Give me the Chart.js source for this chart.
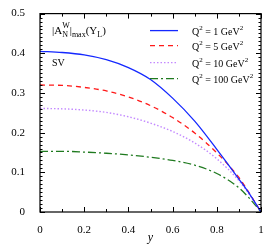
<!DOCTYPE html>
<html>
<head>
<meta charset="utf-8">
<script src="https://cdn.jsdelivr.net/npm/chart.js@4"></script>
<style>
  html, body { margin: 0; padding: 0; background: #fff; }
  #wrap { width: 280px; height: 245px; }
</style>
</head>
<body>
<div id="wrap"><canvas id="asym"></canvas></div>
<script>
const yGrid = [0, 0.1, 0.2, 0.3, 0.4, 0.5, 0.6, 0.7, 0.8, 0.9, 0.95, 1];
const q1 = [0.405, 0.402, 0.396, 0.384, 0.364, 0.334, 0.287, 0.229, 0.158, 0.083, 0.044, 0];
const q5 = [0.320, 0.319, 0.314, 0.305, 0.290, 0.268, 0.238, 0.199, 0.149, 0.087, 0.045, 0];
const q10 = [0.261, 0.260, 0.257, 0.251, 0.240, 0.224, 0.203, 0.174, 0.134, 0.079, 0.042, 0];
const q100 = [0.153, 0.153, 0.151, 0.148, 0.144, 0.138, 0.130, 0.118, 0.097, 0.061, 0.033, 0];
const seriesNames = ['1', '5', '10', '100'];

const serif = '"Liberation Serif", "DejaVu Serif", serif';

function pts(vals) {
  return vals.map((v, i) => ({ x: yGrid[i], y: v }));
}

function mkSet(vals, color, dash, width) {
  return {
    data: pts(vals),
    borderColor: color,
    borderWidth: width,
    borderDash: dash,
    pointRadius: 0,
    fill: false,
    cubicInterpolationMode: 'monotone'
  };
}

// inward ticks on all four sides
const frameTicks = {
  id: 'frameTicks',
  afterDraw(chart) {
    const { ctx, chartArea: a, scales: { x, y } } = chart;
    ctx.save();
    ctx.strokeStyle = '#000';
    ctx.lineWidth = 1;
    ctx.beginPath();
    for (let i = 0; i <= 10; i++) {
      const px = Math.round(x.getPixelForValue(i / 10)) + 0.5;
      const len = i % 2 === 0 ? 5 : 3;
      ctx.moveTo(px, a.bottom); ctx.lineTo(px, a.bottom - len);
      ctx.moveTo(px, a.top); ctx.lineTo(px, a.top + len);
    }
    for (let i = 0; i <= 50; i++) {
      const py = Math.round(y.getPixelForValue(i / 100)) + 0.5;
      const len = i % 10 === 0 ? 5 : 2.5;
      ctx.moveTo(a.left, py); ctx.lineTo(a.left + len, py);
      ctx.moveTo(a.right, py); ctx.lineTo(a.right - len, py);
    }
    ctx.stroke();
    ctx.lineWidth = 1.2;
    ctx.strokeRect(a.left, a.top, a.right - a.left, a.bottom - a.top);
    ctx.restore();
  }
};

// legend and annotation text
const labelsPlugin = {
  id: 'labelsPlugin',
  afterDraw(chart) {
    const { ctx, chartArea: a } = chart;
    ctx.save();
    ctx.fillStyle = '#000';
    ctx.textBaseline = 'alphabetic';
    const rows = [28, 43, 60, 76];
    chart.data.datasets.forEach((ds, i) => {
      const ry = a.top + rows[i] - 11;
      ctx.save();
      ctx.strokeStyle = ds.borderColor;
      ctx.lineWidth = ds.borderWidth;
      ctx.setLineDash(ds.borderDash || []);
      ctx.beginPath();
      ctx.moveTo(150, ry); ctx.lineTo(178, ry);
      ctx.stroke();
      ctx.restore();
      let tx = 192;
      ctx.font = '10px ' + serif;
      ctx.textAlign = 'left';
      ctx.fillText('Q', tx, ry + 4); tx += ctx.measureText('Q').width;
      ctx.font = '7px ' + serif;
      ctx.fillText('2', tx, ry - 1); tx += ctx.measureText('2').width;
      ctx.font = '10px ' + serif;
      const s = ' = ' + seriesNames[i] + ' GeV';
      ctx.fillText(s, tx, ry + 4); tx += ctx.measureText(s).width;
      ctx.font = '7px ' + serif;
      ctx.fillText('2', tx, ry - 1);
    });

    // |A_N^W|_max(Y_L)
    let tx = 52;
    const by = 34;
    ctx.font = '11px ' + serif;
    ctx.fillText('|A', tx, by); tx += ctx.measureText('|A').width;
    ctx.font = '8px ' + serif;
    ctx.fillText('W', tx, by - 6);
    ctx.fillText('N', tx, by + 3);
    tx += ctx.measureText('W').width;
    ctx.font = '11px ' + serif;
    ctx.fillText('|', tx, by); tx += ctx.measureText('|').width;
    ctx.font = '8px ' + serif;
    ctx.fillText('max', tx, by + 3); tx += ctx.measureText('max').width;
    ctx.font = '11px ' + serif;
    ctx.fillText('(Y', tx, by); tx += ctx.measureText('(Y').width;
    ctx.font = '8px ' + serif;
    ctx.fillText('L', tx, by + 3); tx += ctx.measureText('L').width;
    ctx.font = '11px ' + serif;
    ctx.fillText(')', tx, by);

    ctx.font = '10px ' + serif;
    ctx.fillText('SV', 52, 66);
    ctx.restore();
  }
};

new Chart(document.getElementById('asym'), {
  type: 'line',
  data: {
    datasets: [
      mkSet(q1, '#1428ff', [], 1.3),
      mkSet(q5, '#ff1a1a', [5, 4], 1.3),
      mkSet(q10, '#c389ff', [1.5, 2], 1.4),
      mkSet(q100, '#1f7a1f', [8, 3, 2, 3], 1.3)
    ]
  },
  options: {
    responsive: true,
    maintainAspectRatio: false,
    animation: false,
    layout: { padding: { top: 11, right: 19, left: 0, bottom: 0 } },
    plugins: { legend: { display: false }, tooltip: { enabled: false } },
    scales: {
      x: {
        type: 'linear',
        min: 0,
        max: 1,
        ticks: {
          stepSize: 0.2,
          padding: 4,
          color: '#000',
          font: { family: serif, size: 11 },
          callback: v => String(Math.round(v * 10) / 10)
        },
        grid: { display: false },
        border: { display: false },
        title: {
          display: true,
          text: 'y',
          color: '#000',
          padding: { top: 1, bottom: 0 },
          font: { family: serif, size: 12, style: 'italic' }
        },
        afterFit(s) { s.height = 33; }
      },
      y: {
        min: 0,
        max: 0.5,
        ticks: {
          stepSize: 0.1,
          padding: 7,
          color: '#000',
          font: { family: serif, size: 11 },
          callback: v => String(Math.round(v * 10) / 10)
        },
        grid: { display: false },
        border: { display: false },
        afterFit(s) { s.width = 40; }
      }
    }
  },
  plugins: [frameTicks, labelsPlugin]
});
</script>
</body>
</html>
